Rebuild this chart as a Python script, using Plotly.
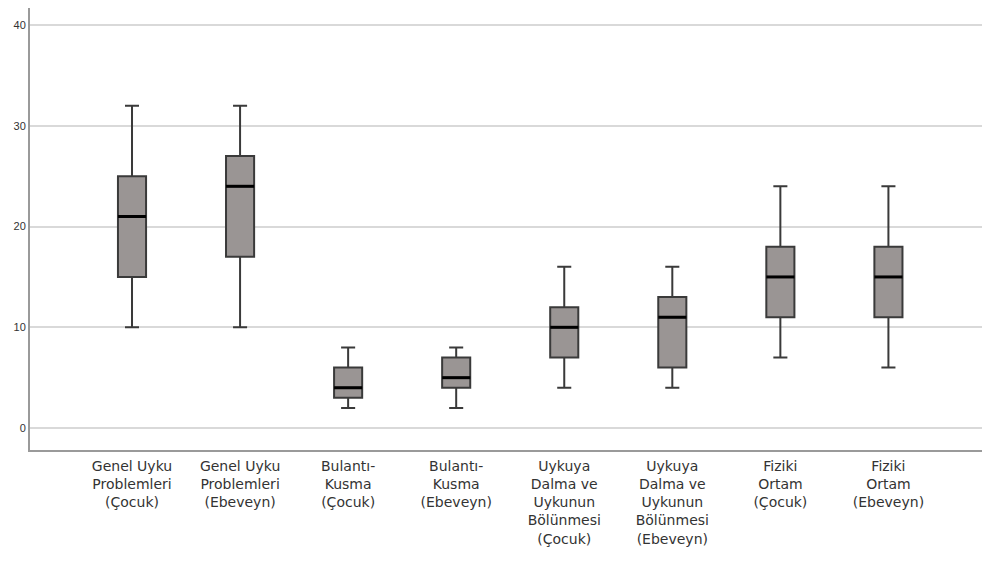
import plotly.graph_objects as go

categories = [
    "Genel Uyku<br>Problemleri<br>(Çocuk)",
    "Genel Uyku<br>Problemleri<br>(Ebeveyn)",
    "Bulantı-<br>Kusma<br>(Çocuk)",
    "Bulantı-<br>Kusma<br>(Ebeveyn)",
    "Uykuya<br>Dalma ve<br>Uykunun<br>Bölünmesi<br>(Çocuk)",
    "Uykuya<br>Dalma ve<br>Uykunun<br>Bölünmesi<br>(Ebeveyn)",
    "Fiziki<br>Ortam<br>(Çocuk)",
    "Fiziki<br>Ortam<br>(Ebeveyn)",
]
mins = [10, 10, 2, 2, 4, 4, 7, 6]
q1s = [15, 17, 3, 4, 7, 6, 11, 11]
medians = [21, 24, 4, 5, 10, 11, 15, 15]
q3s = [25, 27, 6, 7, 12, 13, 18, 18]
maxs = [32, 32, 8, 8, 16, 16, 24, 24]
y_ticks = [0, 10, 20, 30, 40]

BOX_W = 0.26
positions = list(range(len(categories)))

fig = go.Figure()
fig.add_trace(go.Box(
    x=positions,
    q1=q1s, median=medians, q3=q3s,
    lowerfence=mins, upperfence=maxs,
    width=BOX_W,
    whiskerwidth=0.5,
    fillcolor="#9a9594",
    line=dict(color="#3a3a3a", width=2),
    boxpoints=False,
    showlegend=False,
    hoverinfo="skip",
))

# thick black median lines
mx, my = [], []
for p, m in zip(positions, medians):
    mx += [p - BOX_W / 2, p + BOX_W / 2, None]
    my += [m, m, None]
fig.add_trace(go.Scatter(
    x=mx, y=my, mode="lines",
    line=dict(color="#000000", width=3),
    showlegend=False, hoverinfo="skip",
))

fig.update_layout(
    width=990, height=563,
    margin=dict(l=22, r=8, t=0, b=121),
    paper_bgcolor="white", plot_bgcolor="white",
    font=dict(family="Liberation Sans, Arial, sans-serif", color="#333333"),
)
fig.update_xaxes(
    range=[-0.944, 7.94],
    tickvals=positions, ticktext=categories,
    tickfont=dict(size=14, color="#333333", family="DejaVu Sans, sans-serif"),
    showgrid=False, zeroline=False,
    showline=True, linecolor="#9a9a9a", linewidth=2,
    ticks="", tickangle=0, automargin=False,
    ticklabelstandoff=2,
)
fig.update_yaxes(
    range=[-2.18, 41.7],
    tickvals=y_ticks,
    tickfont=dict(size=11, color="#333333"),
    showgrid=True, gridcolor="#d9d9d9", gridwidth=1.5,
    zeroline=False,
    showline=True, linecolor="#9a9a9a", linewidth=2,
    ticks="", automargin=False,
)

fig.write_html("out.html")
